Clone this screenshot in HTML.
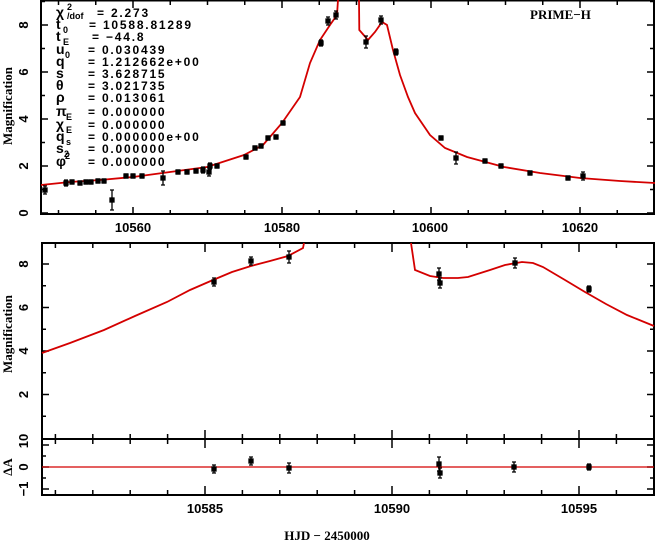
<!DOCTYPE html>
<html><head><meta charset="utf-8"><style>
body{margin:0;background:#fff;}
svg{display:block;font-family:"Liberation Sans",sans-serif;font-weight:bold;}
.p{letter-spacing:1.8px;}
</style></head><body>
<svg id="s" width="655" height="542" xmlns="http://www.w3.org/2000/svg">
<g fill="none" stroke="#000" stroke-width="2">
<rect x="41" y="0.5" width="613" height="213.5"/>
<rect x="42" y="243" width="612" height="252"/>
<line x1="42" y1="439" x2="654" y2="439"/>
</g>
<g id="ticks" stroke="#000" stroke-width="1.5"></g>
<polyline fill="none" stroke="#d40000" stroke-width="1.8" points="41,185 70,182 100,180 133,177 170,172 207,167 244,155 263,145 282,123 300,97 310,63 320,40 330,25 337,15 338,0"/>
<polyline fill="none" stroke="#d40000" stroke-width="1.8" points="359,0 359.3,30 368,40 375,32 382,22 387,25 393,50 400,75 408,97 415,113 430,135 445,148 467,157 504,167 540,173 580,178 620,181 655,183"/>
<polyline fill="none" stroke="#d40000" stroke-width="1.8" points="42,353 70,343 104,330 135,316 167,302 190,290 213,280 232,272 251,266 270,261 288,256 303,248 304,243"/>
<polyline fill="none" stroke="#d40000" stroke-width="1.8" points="411,243 415,270 430,276 443,278 458,278 468,277 490,270 505,265 522,262 533,263 543,267 565,280 585,292 606,304 627,315 654,326"/>
<line x1="42" y1="467" x2="654" y2="467" stroke="#d40000" stroke-width="1.2"/>
<g id="pts" fill="#000" stroke="#000" stroke-width="1.3"></g>
<g font-size="12" fill="#000">
<g font-size="14">
<text x="56" y="17">χ</text><text x="56" y="29">t</text><text x="56" y="41">t</text><text x="56" y="54">u</text><text x="56" y="66">q</text><text x="56" y="78">s</text><text x="56" y="90">θ</text><text x="56" y="102">ρ</text><text x="56" y="116">π</text><text x="56" y="129">χ</text><text x="56" y="141">q</text><text x="56" y="153">s</text><text x="56" y="166">φ</text>
</g>
<g font-size="9">
<text x="67" y="10">2</text><text x="67" y="19">/dof</text><text x="63" y="33">0</text><text x="63" y="45">E</text><text x="65" y="58">0</text><text x="66" y="120">E</text><text x="66" y="133">E</text><text x="66" y="145">s</text><text x="64" y="157">2</text><text x="65" y="159">2</text>
</g>
<g class="p">
<text x="97" y="17">= 2.273</text>
<text x="89" y="29">= 10588.81289</text>
<text x="92" y="41">= −44.8</text>
<text x="88" y="54">= 0.030439</text>
<text x="88" y="66">= 1.212662e+00</text>
<text x="88" y="78">= 3.628715</text>
<text x="88" y="90">= 3.021735</text>
<text x="88" y="102">= 0.013061</text>
<text x="88" y="116">= 0.000000</text>
<text x="88" y="129">= 0.000000</text>
<text x="88" y="141">= 0.000000e+00</text>
<text x="88" y="153">= 0.000000</text>
<text x="88" y="166">= 0.000000</text>
</g>
<text x="530" y="19" font-size="13" font-family="Liberation Serif,serif">PRIME−H</text>
<g text-anchor="middle" font-size="13">
<text x="133" y="232">10560</text><text x="282" y="232">10580</text><text x="430" y="232">10600</text><text x="580" y="232">10620</text>
<text x="205" y="513">10585</text><text x="392" y="513">10590</text><text x="579" y="513">10595</text>
<text x="327" y="540" font-family="Liberation Serif,serif">HJD − 2450000</text>
<text transform="translate(12,106) rotate(-90)" font-family="Liberation Serif,serif">Magnification</text>
<text transform="translate(12,334) rotate(-90)" font-family="Liberation Serif,serif">Magnification</text>
<text transform="translate(12,467) rotate(-90)" font-family="Liberation Serif,serif">ΔA</text>
</g>
<g id="yl" text-anchor="middle" font-size="13"></g>
</g>
</svg>
<script>
var NS="http://www.w3.org/2000/svg",T=document.getElementById('ticks'),P=document.getElementById('pts'),Y=document.getElementById('yl');
function L(x1,y1,x2,y2){var l=document.createElementNS(NS,'line');l.setAttribute('x1',x1);l.setAttribute('y1',y1);l.setAttribute('x2',x2);l.setAttribute('y2',y2);T.appendChild(l);}
function tx(x,y,s){var t=document.createElementNS(NS,'text');t.setAttribute('transform','translate('+x+','+y+') rotate(-90)');t.setAttribute('dy','4');t.textContent=s;Y.appendChild(t);}
for(var d=10550;d<=10630;d+=5){var x=133+(d-10560)*7.45;if(x<42||x>654)continue;var big=(d%20==0)?7:4;L(x,214,x,214-big);L(x,1,x,1+big);}
for(var m=0;m<=9;m++){var y=213-m*23.5;var b=(m%2==0)?7:4;L(41,y,41+b,y);L(654,y,654-b,y);if(m%2==0)tx(24,y,''+m);}
for(var d=10581;d<=10597;d++){var x=205+(d-10585)*37.4;if(x<42||x>654)continue;var b=(d%5==0)?9:5;[243,439].forEach(function(yy){L(x,yy,x,yy+b);});L(x,439,x,439-b);L(x,495,x,495-b);}
for(var m=1;m<=8;m++){var y=438-m*21.75;var b=(m%2==0)?7:4;L(42,y,42+b,y);L(654,y,654-b,y);if(m%2==0)tx(24,y,''+m);}
tx(24,441,'10');
for(var r=-1;r<=1;r+=0.5){var y=467-r*22;var b=(r%1==0)?7:4;L(42,y,42+b,y);L(654,y,654-b,y);}
tx(24,467,'0');tx(24,489,'−1');
function pt(x,y,e){var c=document.createElementNS(NS,'rect');c.setAttribute('x',x-2);c.setAttribute('y',y-2);c.setAttribute('width',4);c.setAttribute('height',4);P.appendChild(c);if(e){var l=document.createElementNS(NS,'path');l.setAttribute('fill','none');l.setAttribute('d','M'+x+','+(y-e)+'V'+(y+e)+'M'+(x-2)+','+(y-e)+'h4M'+(x-2)+','+(y+e)+'h4');P.appendChild(l);}}
[[45,190,4],[66,183,3],[72,182,2],[80,183,2],[86,182,2],[91,182,2],[98,181,2],[104,181,2],[112,200,10],[126,176,2],[133,176,2],[142,176,2],[163,178,7],[178,172,2],[187,172,2],[196,171,2],[203,170,3],[209,172,4],[210,166,3],[217,166,2],[246,157,2],[255,148,2],[261,146,2],[268,138,2],[276,137,2],[283,123,2],[321,43,3],[328,21,4],[336,15,4],[366,42,6],[381,20,4],[396,52,3],[441,138,2],[456,158,6],[485,161,2],[501,166,2],[530,173,2],[568,178,2],[583,176,4],
[214,282,4],[251,261,4],[289,257,6],[439,274,6],[440,283,5],[515,263,5],[589,289,3],
[214,469,4],[251,461,4],[289,468,5],[439,464,7],[440,473,5],[514,467,5],[589,467,3]].forEach(function(a){pt(a[0],a[1],a[2]);});
</script>
</body></html>
